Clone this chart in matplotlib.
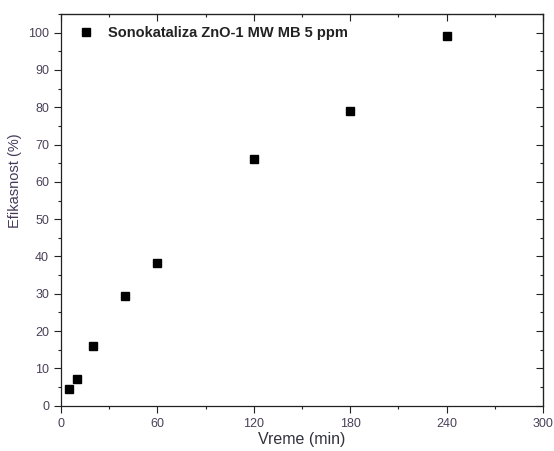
import matplotlib
matplotlib.use('Agg')
import matplotlib.pyplot as plt
from matplotlib.ticker import MultipleLocator

plt.rcParams['font.family'] = ['Liberation Sans', 'DejaVu Sans']

# data
vreme = [5, 10, 20, 40, 60, 120, 180, 240]
efikasnost = [4.4, 7.1, 16.0, 29.5, 38.2, 66.0, 79.1, 99.1]
label = 'Sonokataliza ZnO-1 MW MB 5 ppm'

fig = plt.figure(figsize=(5.54, 4.51), dpi=100)
ax = fig.add_axes([0.110, 0.1004, 0.870, 0.8686])

ax.plot(vreme, efikasnost, 's', color='black', ms=6, label=label)

ax.set_xlim(0, 300)
ax.set_ylim(0, 105)
ax.xaxis.set_major_locator(MultipleLocator(60))
ax.xaxis.set_minor_locator(MultipleLocator(30))
ax.yaxis.set_major_locator(MultipleLocator(10))
ax.yaxis.set_minor_locator(MultipleLocator(5))

ax.tick_params(which='both', direction='out', top=False, right=False,
               labelsize=9, labelcolor='#4a4058', width=0.8, color='#222222')
ax.tick_params(which='major', length=5)
ax.tick_params(which='minor', length=2.5)

# inward mirror ticks on top and right
sec_x = ax.secondary_xaxis('top')
sec_x.xaxis.set_major_locator(MultipleLocator(60))
sec_x.xaxis.set_minor_locator(MultipleLocator(30))
sec_x.tick_params(which='both', direction='in', labeltop=False, width=0.8, color='#222222')
sec_x.tick_params(which='major', length=5)
sec_x.tick_params(which='minor', length=2.5)
sec_y = ax.secondary_yaxis('right')
sec_y.yaxis.set_major_locator(MultipleLocator(10))
sec_y.yaxis.set_minor_locator(MultipleLocator(5))
sec_y.tick_params(which='both', direction='in', labelright=False, width=0.8, color='#222222')
sec_y.tick_params(which='major', length=5)
sec_y.tick_params(which='minor', length=2.5)

for s in ax.spines.values():
    s.set_linewidth(0.9)
    s.set_color('#222222')

ax.set_xlabel('Vreme (min)', fontsize=11.5, color='#333340')
ax.xaxis.set_label_coords(0.5, -0.066)
ax.set_ylabel('Efikasnost (%)', fontsize=10.5, color='#4a3a5a')
ax.yaxis.set_label_coords(-0.080, 0.574)

leg = ax.legend(loc='center left', bbox_to_anchor=(0.0367, 0.9515), frameon=False,
                handlelength=1.0, handletextpad=1.0, borderpad=0, borderaxespad=0,
                prop={'weight': 'bold', 'size': 10.5})
for t in leg.get_texts():
    t.set_color('#222222')

fig.savefig('out.png', dpi=100)
